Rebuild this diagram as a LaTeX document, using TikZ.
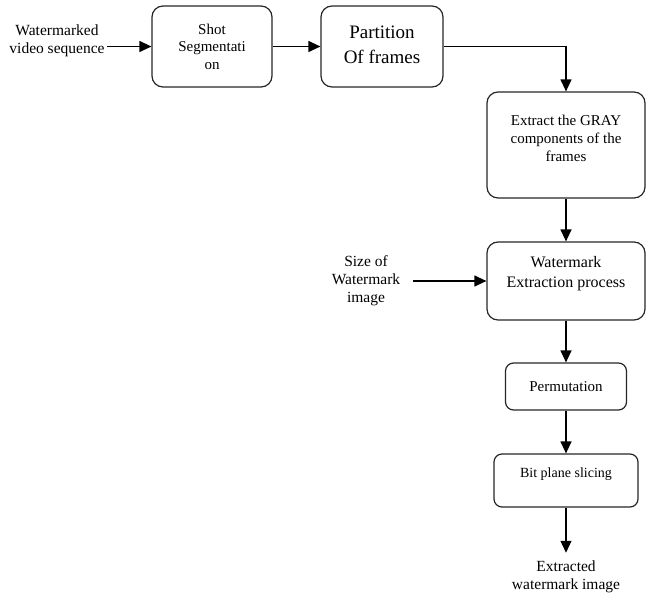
\documentclass[tikz,border=0pt]{standalone}
\usepackage{fontspec}
\setmainfont{Liberation Serif}
\usetikzlibrary{arrows.meta}
\tikzstyle{stage}=[draw=black!85, rounded corners=11pt, line width=1.2pt, align=center, inner sep=2pt, font=\fontsize{15}{18}\selectfont]
\tikzstyle{smallstage}=[stage, rounded corners=8pt]
\tikzstyle{caption}=[align=center, inner sep=2pt, font=\fontsize{15.5}{18}\selectfont]
\tikzstyle{flow}=[line width=1.2pt, -{Triangle[length=12pt,width=11pt]}]

\begin{document}
\begin{tikzpicture}[x=1pt, y=-1pt]
    \useasboundingbox (0,0) rectangle (646,597);

    %inputs and output
    \node [caption] (video) at (57,41) {Watermarked\\video sequence};
    \node [caption] (wsize) at (366,281) {Size of\\Watermark\\image};
    \node [caption] (result) at (566,577) {Extracted\\watermark image};

    %top row
    \node [stage, minimum width=120pt, minimum height=81pt, font=\fontsize{15}{17.5}\selectfont] (shot) at (212,46.5) {Shot\\Segmentati\\on};
    \node [stage, minimum width=122pt, minimum height=81pt, font=\fontsize{19}{25}\selectfont, text depth=4pt] (part) at (382,46.5) {Partition\\Of frames};

    %right column
    \node [stage, minimum width=158pt, minimum height=106pt, text depth=14pt] (gray) at (566,145) {Extract the GRAY\\components of the\\frames};
    \node [stage, minimum width=158pt, minimum height=78pt, text depth=19pt, font=\fontsize{16}{20}\selectfont] (extract) at (566,281) {Watermark\\Extraction process};
    \node [smallstage, minimum width=121pt, minimum height=47pt] (perm) at (566,386.5) {Permutation};
    \node [smallstage, minimum width=144pt, minimum height=53pt, text depth=16pt, font=\fontsize{14}{17}\selectfont] (slice) at (566,480.5) {Bit plane slicing};

    %connectors
    \draw [flow] (video.east |- shot.west) -- (shot.west);
    \draw [flow] (shot) -- (part);
    \draw [flow] (part.east) -| (gray.north);
    \draw [flow] (gray) -- (extract);
    \draw [flow, shorten <=11pt] (wsize.east |- extract.west) -- (extract.west);
    \draw [flow] (extract) -- (perm);
    \draw [flow] (perm) -- (slice);
    \draw [flow, shorten >=6pt] (slice) -- (result);

\end{tikzpicture}
\end{document}
